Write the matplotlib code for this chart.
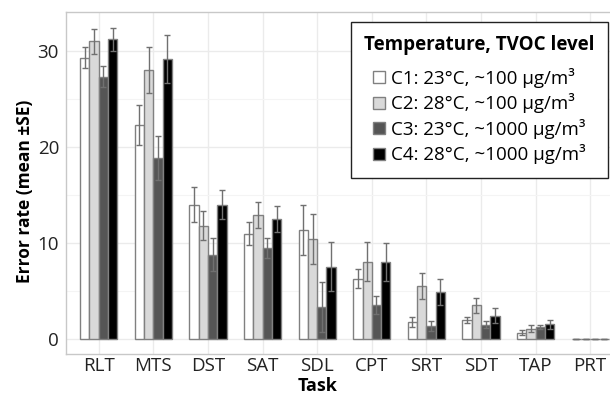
import numpy as np
import matplotlib
matplotlib.use('Agg')
import matplotlib.pyplot as plt
from matplotlib.patches import Patch

plt.rcParams['font.family'] = ['Open Sans', 'DejaVu Sans']

# Data
tasks = ['RLT', 'MTS', 'DST', 'SAT', 'SDL', 'CPT', 'SRT', 'SDT', 'TAP', 'PRT']
c1 = [29.3, 22.3, 14.0, 10.97, 11.35, 6.3, 1.77, 1.98, 0.66, 0.05]
c2 = [31.0, 28.05, 11.8, 12.95, 10.4, 8.05, 5.5, 3.5, 1.07, 0.05]
c3 = [27.3, 18.85, 8.8, 9.5, 3.3, 3.55, 1.35, 1.5, 1.28, 0.05]
c4 = [31.2, 29.2, 14.0, 12.5, 7.55, 8.0, 4.9, 2.43, 1.52, 0.05]
se1 = [1.1, 2.1, 1.8, 1.2, 2.6, 1.0, 0.55, 0.35, 0.25, 0.0]
se2 = [1.3, 2.4, 1.5, 1.35, 2.6, 2.05, 1.35, 0.75, 0.38, 0.0]
se3 = [1.1, 2.25, 1.75, 1.05, 2.6, 0.95, 0.55, 0.35, 0.22, 0.0]
se4 = [1.2, 2.5, 1.5, 1.35, 2.6, 1.95, 1.35, 0.77, 0.43, 0.0]

labels = ['C1: 23°C, ~100 µg/m³', 'C2: 28°C, ~100 µg/m³',
          'C3: 23°C, ~1000 µg/m³', 'C4: 28°C, ~1000 µg/m³']
fills = ['white', '#d9d9d9', '#555555', 'black']

fig = plt.figure(figsize=(6.1, 3.96), dpi=100)
ax = fig.add_axes([66/610, 42/396, 557/610, 342/396])

x = np.arange(1, len(tasks) + 1)
w = 0.17
series = [c1, c2, c3, c4]
errs = [se1, se2, se3, se4]
for i in range(4):
    pos = x + (i - 1.5) * w
    ax.bar(pos, series[i], width=w, color=fills[i], edgecolor='#808080',
           linewidth=1, zorder=2)
    ax.errorbar(pos, series[i], yerr=errs[i], fmt='none', ecolor='#707070',
                elinewidth=1, capsize=2.5, capthick=1, zorder=3)

ax.set_xlim(0.4, 10.6)
ax.set_ylim(-1.56, 34.06)
ax.set_xticks(x)
ax.set_xticklabels(tasks)
ax.set_yticks([0, 10, 20, 30])
ax.set_yticks([5, 15, 25], minor=True)
ax.tick_params(axis='both', which='both', length=0, labelsize=13.5,
               labelcolor='#222222')
ax.tick_params(axis='x', pad=2)
ax.tick_params(axis='y', pad=5)
ax.grid(True, which='major', color='#ebebeb', linewidth=1, zorder=0)
ax.grid(True, which='minor', axis='y', color='#f4f4f4', linewidth=0.8, zorder=0)
ax.set_axisbelow(True)
for s in ax.spines.values():
    s.set_color('#c8c8c8')
    s.set_linewidth(1)

ax.set_xlabel('Task', fontsize=13, fontweight='bold', va='center')
ax.xaxis.set_label_coords(252/557, -32/342)
ax.set_ylabel('Error rate (mean ±SE)', fontsize=12.5, fontweight='bold', va='center')
ax.yaxis.set_label_coords(-41/557, 163/342)

handles = [Patch(facecolor=fills[i], edgecolor='#808080', linewidth=1) for i in range(4)]
leg = ax.legend(handles, labels, title='Temperature, TVOC level',
                loc='upper right', bbox_to_anchor=(608/610, 1 - 22/396),
                bbox_transform=fig.transFigure, borderaxespad=0, fontsize=13.5,
                title_fontproperties={'weight': 'bold', 'size': 13.5},
                frameon=True, fancybox=False, edgecolor='#222222',
                framealpha=1, handlelength=0.6, handleheight=0.6,
                handletextpad=0.35, labelspacing=0.3, borderpad=0.7)
leg.get_frame().set_linewidth(1)
leg._legend_box.sep = 9

fig.savefig('out.png', dpi=100)
